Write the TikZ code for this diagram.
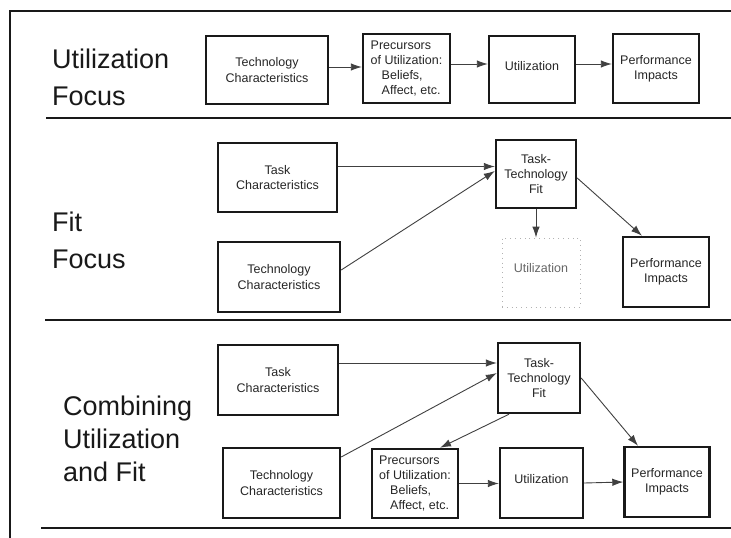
\documentclass[tikz,border=0pt]{standalone}
\usepackage{fontspec}
\setmainfont{Liberation Sans}
\usetikzlibrary{arrows.meta}
\begin{document}
\begin{tikzpicture}[x=1pt,y=-1pt,
  box/.style={draw=black!90, line width=2.4pt, inner sep=0pt, align=center,
    font=\fontsize{12.5}{15.3}\selectfont, text=black!85},
  ghost/.style={draw=black!30, line width=0.8pt, dash pattern=on 0.8pt off 4pt,
    inner sep=0pt, font=\fontsize{12.5}{15.3}\selectfont, text=black!60},
  flow/.style={draw=black!75, line width=0.9pt, -{Latex[length=11pt,width=7.5pt]}},
  rule/.style={draw=black!90, line width=2pt},
  heading/.style={anchor=base west, inner sep=0pt, align=left,
    font=\fontsize{27}{37}\selectfont, text=black!90},
]
\useasboundingbox (0,0) rectangle (731,538);
\fill[white] (0,0) rectangle (731,538);

% outer frame (open at right and bottom)
\draw[line width=1.4pt, black!90] (10,538) -- (10,11) -- (731,11);

% section headings (base anchor sits on the last line)
\node[heading] (h1) at (52,105) {Utilization\\Focus};
\node[heading] (h2) at (52,268) {Fit\\Focus};
\node[heading, font=\fontsize{27}{33}\selectfont] (h3) at (63,481) {Combining\\Utilization\\and Fit};

% section rules
\draw[rule] (46,118) -- (731,118);
\draw[rule] (45,320) -- (731,320);
\draw[rule] (41,528) -- (731,528);

% ---- utilization focus ----
\node[box, minimum width=122pt, minimum height=68pt] (tc1) at (267,70) {Technology\\Characteristics};
\node[box, minimum width=87pt, minimum height=69pt, align=left] (pre1) at (406.5,68.5)
  {Precursors\\of Utilization:\\\hspace*{11pt}Beliefs,\\\hspace*{11pt}Affect, etc.};
\node[box, minimum width=86pt, minimum height=67pt] (ut1) at (532,69.5) {\raisebox{7pt}{Utilization}};
\node[box, minimum width=86pt, minimum height=69pt] (pf1) at (656,68.5) {Performance\\Impacts};

\draw[flow] ([yshift=3pt]tc1.east) -- ([yshift=3pt]tc1.east -| pre1.west);
\draw[flow] ([yshift=4.5pt]pre1.east) -- ([yshift=4.5pt]pre1.east -| ut1.west);
\draw[flow] ([yshift=5.5pt]ut1.east) -- ([yshift=5.5pt]ut1.east -| pf1.west);

% ---- fit focus ----
\node[box, minimum width=119pt, minimum height=69pt] (task2) at (277.5,177.5) {Task\\Characteristics};
\node[box, minimum width=122pt, minimum height=70pt] (tech2) at (279,277) {Technology\\Characteristics};
\node[box, minimum width=80pt, minimum height=68pt] (ttf2) at (536,174) {Task-\\Technology\\Fit};
\node[ghost, minimum width=78pt, minimum height=69pt] (util2) at (541,272.5) {\raisebox{9pt}{Utilization}};
\node[box, minimum width=86pt, minimum height=70pt] (pf2) at (666,272) {Performance\\Impacts};

\draw[flow] ([yshift=11pt]task2.east) -- ([yshift=11pt]task2.east -| ttf2.west);
\draw[flow] ([yshift=7pt]tech2.east) -- ([yshift=3pt]ttf2.west);
\draw[flow] (ttf2.south) -- (ttf2.south |- util2.north);
\draw[flow] ([yshift=-4pt]ttf2.east) -- ([xshift=-24pt]pf2.north);

% ---- combining utilization and fit ----
\node[box, minimum width=120pt, minimum height=70pt] (task3) at (278,380) {Task\\Characteristics};
\node[box, minimum width=82pt, minimum height=70pt] (ttf3) at (539,378) {Task-\\Technology\\Fit};
\node[box, minimum width=117pt, minimum height=70pt] (tech3) at (281.5,483) {Technology\\Characteristics};
\node[box, minimum width=86pt, minimum height=69pt, align=left] (prec3) at (415,483.5)
  {Precursors\\of Utilization:\\\hspace*{11pt}Beliefs,\\\hspace*{11pt}Affect, etc.};
\node[box, minimum width=83pt, minimum height=70pt] (util3) at (541.5,483) {\raisebox{8pt}{Utilization}};
\node[box, minimum width=85pt, minimum height=70pt] (pf3) at (667,482) {Performance\\Impacts};

\draw[flow] ([yshift=17pt]task3.east) -- ([yshift=17pt]task3.east -| ttf3.west);
\draw[flow] ([yshift=26pt]tech3.east) -- ([yshift=5pt]ttf3.west);
\draw[flow] ([xshift=-30pt]ttf3.south) -- ([xshift=25pt]prec3.north);
\draw[flow] (ttf3.east) -- ([xshift=-29pt]pf3.north);
\draw[flow] (prec3.east) -- (prec3.east -| util3.west);
\draw[flow] (util3.east) -- (pf3.west);
\end{tikzpicture}
\end{document}
